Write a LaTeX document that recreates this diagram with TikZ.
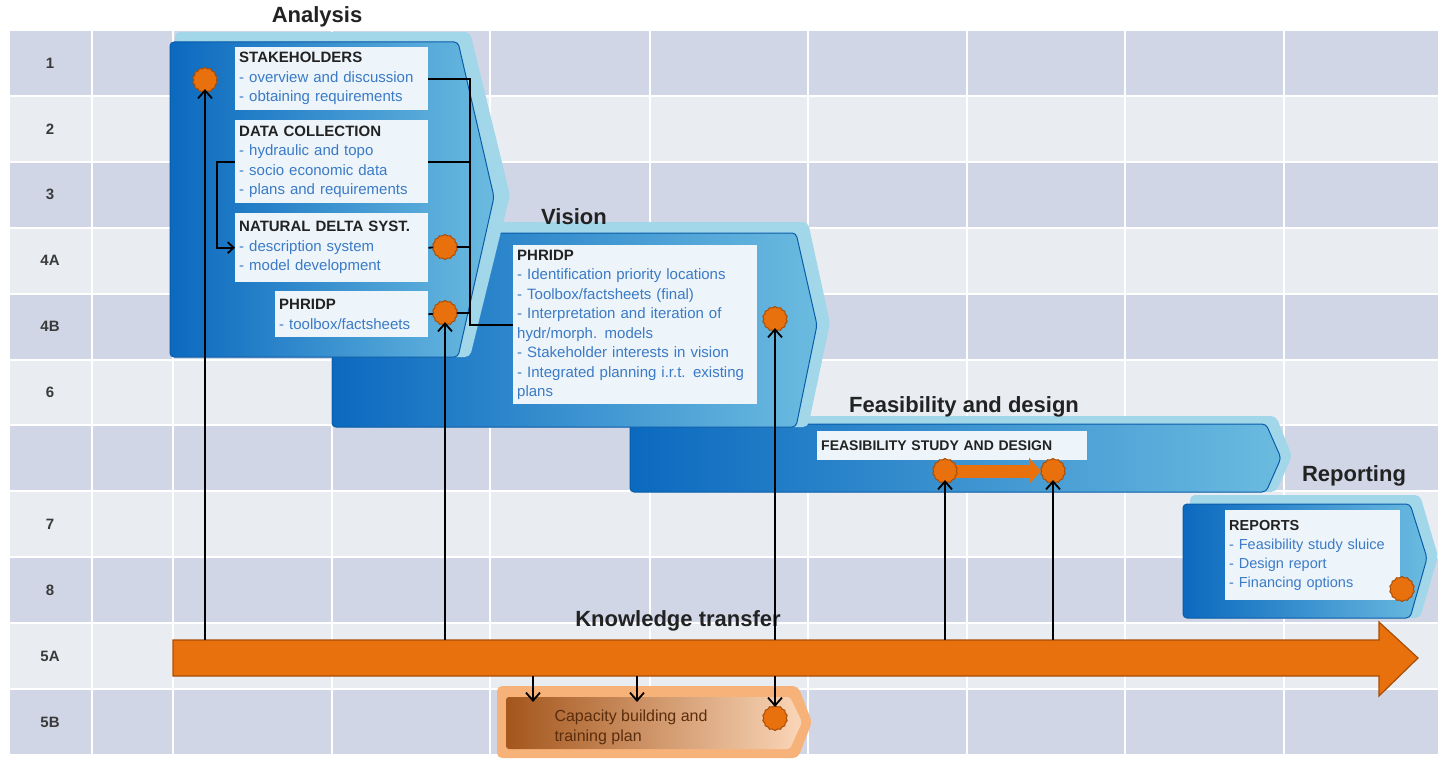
\documentclass[tikz,border=0pt]{standalone}
\usepackage{fontspec}
\setmainfont{Liberation Sans}
\usetikzlibrary{arrows.meta,shapes.geometric,calc}

\definecolor{rowdark}{HTML}{D0D6E6}
\definecolor{rowlight}{HTML}{E9EDF2}
\definecolor{rowtext}{HTML}{3A3A3A}
\definecolor{phaselight}{HTML}{A2D7EA}
\definecolor{phasedark}{HTML}{0B69BF}
\definecolor{phasemid}{HTML}{6BBBE0}
\definecolor{phaseedge}{HTML}{0A5CA8}
\definecolor{boxfill}{HTML}{EDF5FA}
\definecolor{itemblue}{HTML}{3B7AC6}
\definecolor{titlec}{HTML}{222222}
\definecolor{kto}{HTML}{E8700D}
\definecolor{ktoedge}{HTML}{A84D06}
\definecolor{cbpeach}{HTML}{F7B27A}
\definecolor{cbbrown}{HTML}{A4561C}
\definecolor{cbmid}{HTML}{F2B587}
\definecolor{cblight}{HTML}{FAD6B8}
\definecolor{cbtext}{HTML}{5A2D0C}

\tikzset{
  outershape/.style={fill=phaselight, rounded corners=5pt},
  innershape/.style={left color=phasedark, right color=phasemid, draw=phaseedge, line width=1pt, rounded corners=4pt},
  tbox/.style={fill=boxfill, anchor=north west, align=left, inner xsep=4pt, inner ysep=2pt,
    font=\fontsize{15}{19.5}\selectfont, text=itemblue},
  seal/.style={star, star points=14, star point ratio=1.1, fill=kto, draw=ktoedge, line width=1pt,
    minimum size=25pt, inner sep=0pt},
  conn/.style={draw=black, line width=1.8pt},
  flowarrow/.style={draw=black, line width=1.5pt, -{Straight Barb[length=8pt,width=14pt,line width=1.8pt]}},
  stepdir/.style={draw=kto, line width=13pt, -{Triangle[length=12pt,width=26pt]}},
  phaselabel/.style={font=\fontsize{22}{24}\selectfont\bfseries, text=titlec},
  rowlabel/.style={font=\fontsize{15}{17}\selectfont\bfseries, text=rowtext},
}
\newcommand\boxtitle[1]{\textcolor{titlec}{\bfseries #1}}

\begin{document}
\begin{tikzpicture}[x=1pt, y=-1pt]
\useasboundingbox (0,0) rectangle (1441,768);
\fill[white] (0,0) rectangle (1441,768);

% ---- schedule grid ----
\foreach \i/\c in {0/rowdark,1/rowlight,2/rowdark,3/rowlight,4/rowdark,5/rowlight,
                   6/rowdark,7/rowlight,8/rowdark,9/rowlight,10/rowdark}
  \fill[\c] (10,{30+\i*65.9+1}) rectangle (1438,{30+(\i+1)*65.9-1});
\foreach \x in {92,173,332,490,650,808,967,1125,1284}
  \fill[white] ({\x-1.2},30) rectangle ({\x+1.2},755);
\foreach \i/\t in {0/1,1/2,2/3,3/4A,4/4B,5/6,7/7,8/8,9/5A,10/5B}
  \node[rowlabel] (row-\i) at (50,{30+(\i+0.5)*65.9}) {\t};

% ---- capacity building ----
\fill[cbpeach, rounded corners=5pt] (497,686) -- (798,686) -- (812,722) -- (798,758) -- (497,758) -- cycle;
\path[left color=cbbrown, middle color=cbmid, right color=cblight, rounded corners=3pt]
  (506,697) -- (790,697) -- (802,722) -- (790,749) -- (506,749) -- cycle;
\node[anchor=west, align=left, font=\fontsize{16}{20}\selectfont, text=cbtext] (cb) at (551,727)
  {Capacity building and\\training plan};

% ---- reporting ----
\fill[outershape] (1190,495) -- (1420,495) -- (1438,556) -- (1420,618) -- (1190,618) -- cycle;
\path[innershape] (1183,504) -- (1410,504) -- (1427,558) -- (1410,618) -- (1183,618) -- cycle;
\node[tbox, text width=167pt, minimum height=90pt, font=\fontsize{14.5}{19}\selectfont] (rb) at (1225,510)
  {\boxtitle{REPORTS}\\- Feasibility study sluice\\- Design report\\- Financing options};

% ---- feasibility and design ----
\fill[outershape] (640,416) -- (1276,416) -- (1292,456) -- (1276,492) -- (640,492) -- cycle;
\path[innershape] (630,424) -- (1266,424) -- (1281,458) -- (1266,492) -- (630,492) -- cycle;
\node[tbox, text width=262pt, minimum height=29pt, font=\fontsize{14}{16}\selectfont] (fb) at (817,431)
  {\boxtitle{FEASIBILITY STUDY AND DESIGN}};

% ---- vision ----
\fill[outershape] (340,222) -- (808,222) -- (830,323) -- (808,427) -- (340,427) -- cycle;
\path[innershape] (332,233) -- (796,233) -- (817,325) -- (796,427) -- (332,427) -- cycle;
\node[tbox, text width=236pt, minimum height=159pt] (vb) at (513,245)
  {\boxtitle{PHRIDP}\\- Identification priority locations\\- Toolbox/factsheets (final)\\
   - Interpretation and iteration of\\hydr/morph. models\\- Stakeholder interests in vision\\
   - Integrated planning i.r.t. existing\\plans};

% ---- analysis ----
\fill[outershape] (175,32) -- (470,32) -- (510,195) -- (470,357) -- (175,357) -- cycle;
\path[innershape] (170,42) -- (458,42) -- (494,197) -- (458,357) -- (170,357) -- cycle;
\node[tbox, text width=185pt, minimum height=63pt] (sh) at (235,47)
  {\boxtitle{STAKEHOLDERS}\\- overview and discussion\\- obtaining requirements};
\node[tbox, text width=185pt, minimum height=83pt] (dc) at (235,120)
  {\boxtitle{DATA COLLECTION}\\- hydraulic and topo\\- socio economic data\\- plans and requirements};
\node[tbox, text width=185pt, minimum height=69pt] (nd) at (235,213)
  {\boxtitle{NATURAL DELTA SYST.}\\- description system\\- model development};
\node[tbox, text width=145pt, minimum height=46pt] (ph) at (275,291)
  {\boxtitle{PHRIDP}\\- toolbox/factsheets};

% ---- phase titles ----
\node[phaselabel] (lab-an) at (317,17) {Analysis};
\node[phaselabel] (lab-vi) at (574,217) {Vision};
\node[phaselabel] (lab-fd) at (964,407) {Feasibility and design};
\node[phaselabel] (lab-rp) at (1354,476) {Reporting};
\node[phaselabel] (lab-kt) at (678,621) {Knowledge transfer};

% ---- knowledge transfer bar ----
\path[fill=kto, draw=ktoedge, line width=1.2pt]
  (173,640) -- (1379,640) -- (1379,622) -- (1418,658) -- (1379,696) -- (1379,676) -- (173,676) -- cycle;
\coordinate (kt-n) at (0,640);
\coordinate (kt-s) at (0,676);

% ---- milestones ----
\coordinate (bus) at (470,0);
\coordinate (cbA) at (533,702);
\coordinate (cbB) at (637,702);
\path (205,80) coordinate (a1p) (445,247) coordinate (a2p) (445,313) coordinate (a3p)
      (775,319) coordinate (v1p) (945,471) coordinate (f1p) (1053,471) coordinate (f2p)
      (1402,589) coordinate (r1p) (775,718) coordinate (cb1p);

% bracket lines inside the analysis phase
\draw[conn] (sh.east) -| (bus |- vb.west) -- (vb.west);
\draw[conn] (dc.east) -- (dc.east -| bus);
\draw[conn] (nd.east) -- (a2p) -- (a2p -| bus);
\draw[conn] (ph.east) -- (a3p) -- (a3p -| bus);
\draw[conn, -{Straight Barb[length=6pt,width=11pt,line width=1.8pt]}]
  (dc.west) -- ++(-18,0) |- (nd.west);

% step arrow in the feasibility phase
\draw[stepdir, shorten <=8pt, shorten >=-1pt] (f1p) -- ($(f2p)+(-13,0)$);

\node[seal] (a1) at (a1p) {};
\node[seal] (a2) at (a2p) {};
\node[seal] (a3) at (a3p) {};
\node[seal] (v1) at (v1p) {};
\node[seal] (f1) at (f1p) {};
\node[seal] (f2) at (f2p) {};
\node[seal] (r1) at (r1p) {};
\node[seal] (cb1) at (cb1p) {};

% knowledge flows from the bar
\foreach \m in {a1,a3,v1,f1,f2}
  \draw[flowarrow, shorten >=-4pt] (kt-n -| \m) -- (\m.south);
\draw[flowarrow] (kt-s -| cbA) -- (cbA);
\draw[flowarrow] (kt-s -| cbB) -- (cbB);
\draw[flowarrow, shorten >=-2pt] (kt-s -| cb1) -- (cb1.north);
\end{tikzpicture}
\end{document}
